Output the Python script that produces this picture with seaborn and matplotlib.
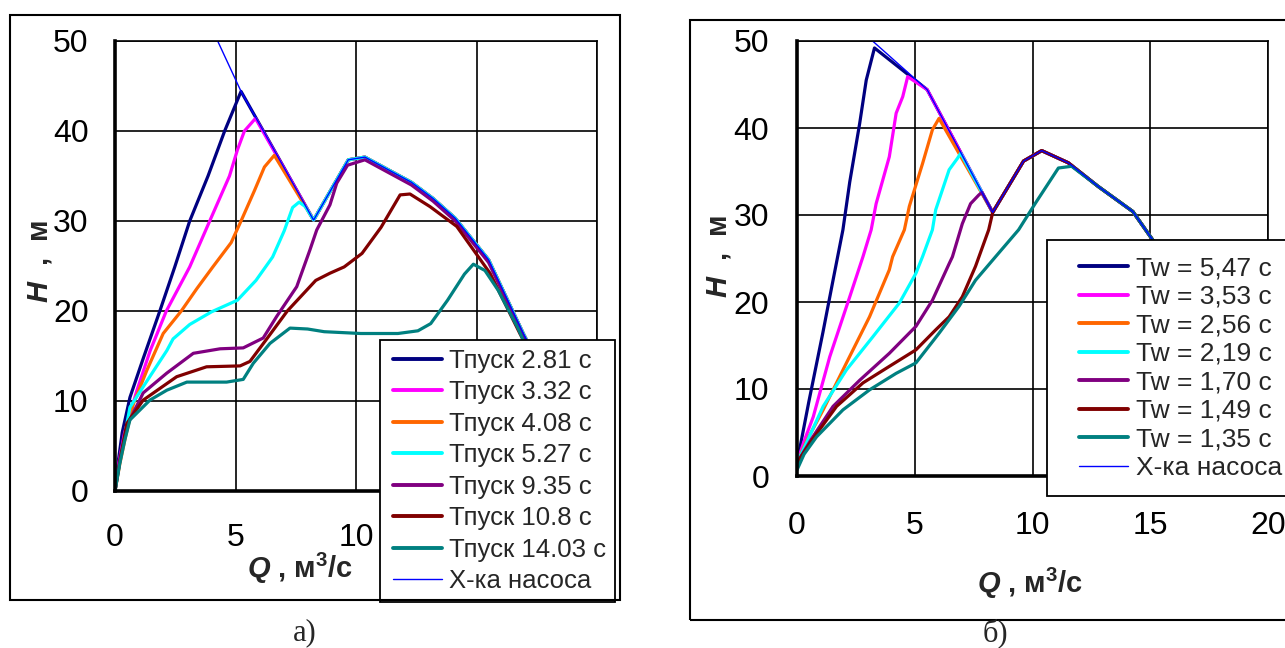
import numpy as np
import pandas as pd
import matplotlib
matplotlib.use("Agg")
import matplotlib.pyplot as plt
import seaborn as sns
from matplotlib.lines import Line2D
from matplotlib.patches import Rectangle
from matplotlib.legend_handler import HandlerLine2D

# ---------------- data: panel a) ----------------
a_labels = ["Тпуск 2.81 с", "Тпуск 3.32 с", "Тпуск 4.08 с", "Тпуск 5.27 с",
            "Тпуск 9.35 с", "Тпуск 10.8 с", "Тпуск 14.03 с"]
a_pump_label = "Х-ка насоса"

a_tail_Q = [8.24, 9.68, 10.37, 12.3, 13.2, 14.12, 15.5, 16.94, 17.8]
a_tail_H = [30.1, 36.8, 37.1, 34.3, 32.5, 30.3, 25.7, 17.5, 13.0]

a_q1 = [0, 0.12, 0.3, 0.62, 1.18, 1.86, 2.48, 3.1, 3.86, 4.55, 5.23] + a_tail_Q
a_h1 = [0, 3.0, 6.5, 10.4, 14.8, 20.0, 24.9, 30.0, 35.0, 40.0, 44.4] + a_tail_H

a_q2 = [0, 0.15, 0.4, 0.9, 1.46, 2.13, 3.1, 3.93, 4.75, 5.08, 5.37, 5.83] + a_tail_Q
a_h2 = [0, 3.0, 6.5, 11.1, 15.6, 20.0, 24.9, 30.0, 35.0, 37.9, 40.0, 41.4] + a_tail_H

a_q3 = [0, 0.2, 0.45, 0.76, 1.32, 2.0, 2.75, 3.4, 4.06, 4.82, 5.23, 5.79, 6.2, 6.61] + a_tail_Q
a_h3 = [0, 3.0, 6.2, 9.65, 13.4, 17.5, 20.0, 22.5, 24.9, 27.6, 30.0, 33.4, 36.0, 37.3] + a_tail_H

a_q4 = [0, 0.2, 0.62, 1.32, 2.15, 2.41, 3.1, 4.0, 5.08, 5.85, 6.54, 7.02, 7.37, 7.64, 7.9] + a_tail_Q
a_h4 = [0, 3.2, 9.3, 12.2, 15.6, 16.9, 18.5, 19.9, 21.2, 23.4, 26.0, 28.9, 31.5, 32.1, 31.6] + a_tail_H

a_q5 = [0, 0.2, 0.5, 1.17, 2.15, 3.25, 4.36, 5.32, 6.15, 6.71, 7.54, 8.09, 8.37, 8.92, 9.2, 9.65,
        10.37, 12.3, 13.2, 14.12, 15.5, 16.94, 17.8]
a_h5 = [0, 3.5, 7.3, 10.9, 13.1, 15.3, 15.8, 15.9, 17.0, 19.4, 22.7, 26.8, 29.0, 31.8, 34.2, 36.2,
        36.8, 34.0, 32.2, 30.0, 25.4, 17.3, 13.0]

a_q6 = [0, 0.2, 0.49, 1.17, 2.56, 3.8, 5.19, 5.6, 6.27, 7.15, 8.33, 8.92, 9.51, 10.25, 11.04, 11.83,
        12.24, 13.07, 14.18, 14.87, 15.56, 16.8, 17.6]
a_h6 = [0, 3.3, 7.5, 10.1, 12.7, 13.8, 13.9, 14.4, 16.8, 20.0, 23.4, 24.2, 24.9, 26.4, 29.3, 32.9,
        33.0, 31.6, 29.4, 26.8, 24.2, 17.5, 13.5]

a_q7 = [0, 0.2, 0.41, 0.62, 1.45, 2.15, 2.98, 4.63, 5.32, 5.74, 6.43, 7.26, 7.99, 8.68, 10.2,
        11.74, 12.57, 13.1, 13.8, 14.5, 14.87, 15.35, 15.9, 16.7, 17.4]
a_h7 = [0, 3.1, 5.7, 7.9, 10.1, 11.2, 12.1, 12.1, 12.4, 14.2, 16.4, 18.1, 18.0, 17.7, 17.5,
        17.5, 17.8, 18.6, 21.2, 24.1, 25.2, 24.5, 22.3, 18.2, 14.0]

a_pump_Q = [4.26, 5.23, 8.24, 9.68, 10.37, 12.3, 13.2, 14.12, 15.5, 16.94, 17.8]
a_pump_H = [50.0, 44.4, 30.1, 36.8, 37.1, 34.3, 32.5, 30.3, 25.7, 17.5, 13.0]

# ---------------- data: panel б) ----------------
b_labels = ["Tw = 5,47 с", "Tw = 3,53 с", "Tw = 2,56 с", "Tw = 2,19 с",
            "Tw = 1,70 с", "Tw = 1,49 с", "Tw = 1,35 с"]
b_pump_label = "Х-ка насоса"

b_tail_Q = [8.31, 9.62, 10.39, 11.52, 12.78, 14.26, 15.19, 16.0]
b_tail_H = [30.3, 36.2, 37.4, 36.0, 33.3, 30.4, 26.8, 22.5]

b_q1 = [0, 0.5, 1.1, 1.53, 1.95, 2.24, 2.66, 2.94, 3.29, 5.53] + b_tail_Q
b_h1 = [1.5, 8.5, 16.5, 22.5, 28.3, 33.8, 40.5, 45.5, 49.2, 44.4] + b_tail_H

b_q2 = [0, 0.3, 0.69, 1.39, 2.24, 2.8, 3.15, 3.36, 3.92, 4.21, 4.49, 4.7, 5.53] + b_tail_Q
b_h2 = [1.5, 4.0, 6.8, 13.7, 20.6, 25.2, 28.3, 31.3, 36.7, 41.7, 43.6, 45.9, 44.4] + b_tail_H

b_q3 = [0, 0.4, 1.11, 2.1, 3.08, 3.92, 4.06, 4.56, 4.77, 5.33, 5.75, 6.03] + b_tail_Q
b_h3 = [1.5, 4.0, 7.6, 13.0, 18.3, 23.7, 25.2, 28.3, 31.0, 35.9, 39.8, 41.1] + b_tail_H

b_q4 = [0, 0.4, 1.11, 2.1, 3.22, 4.35, 5.05, 5.33, 5.75, 5.89, 6.46, 6.81, 6.95] + b_tail_Q
b_h4 = [1.5, 3.8, 8.0, 12.2, 16.0, 19.9, 23.3, 25.2, 28.3, 30.6, 35.2, 36.5, 37.1] + b_tail_H

b_q5 = [0, 0.6, 1.53, 2.66, 3.92, 5.05, 5.75, 6.46, 6.6, 7.02, 7.37, 7.72, 7.85] + b_tail_Q
b_h5 = [1.5, 4.2, 8.0, 11.0, 14.1, 17.2, 20.2, 24.4, 25.2, 29.0, 31.3, 32.3, 32.6] + b_tail_H

b_q6 = [0, 0.6, 1.68, 2.8, 3.92, 5.05, 5.89, 6.46, 7.02, 7.58, 8.14] + b_tail_Q
b_h6 = [1.5, 4.0, 8.0, 10.7, 12.6, 14.5, 16.8, 18.3, 20.6, 24.1, 28.3] + b_tail_H

b_q7 = [0, 0.3, 0.83, 1.95, 3.08, 4.21, 5.05, 6.03, 6.88, 7.58, 8.43, 9.41, 10.11, 11.1, 11.66,
        12.78, 14.26, 15.19, 16.0]
b_h7 = [0.7, 2.5, 4.5, 7.6, 9.9, 11.8, 13.0, 16.4, 19.5, 22.5, 25.2, 28.3, 31.3, 35.4, 35.6,
        33.3, 30.4, 26.8, 22.5]

b_pump_Q = [3.21, 5.53] + b_tail_Q
b_pump_H = [50.0, 44.4] + b_tail_H

colors = ["#000080", "#FF00FF", "#FF6600", "#00FFFF", "#800080", "#800000", "#008080"]
pump_color = "#0000FF"

xticks = [0, 5, 10, 15, 20]
xtick_labels_a = ["0", "5", "10", "", ""]   # 15 and 20 are hidden behind the legend in panel a)
xtick_labels_b = ["0", "5", "10", "15", "20"]
yticks = [0, 10, 20, 30, 40, 50]

# ---------------- style ----------------
sns.set_style("white")
plt.rcParams["font.family"] = ["Liberation Sans", "DejaVu Sans"]
plt.rcParams["mathtext.fontset"] = "custom"
plt.rcParams["mathtext.it"] = "Liberation Sans:bold:italic"
plt.rcParams["mathtext.rm"] = "Liberation Sans:bold"
plt.rcParams["mathtext.bf"] = "Liberation Sans:bold"

W, H = 1285, 648
fig = plt.figure(figsize=(W / 100, H / 100), dpi=100)
fig.patch.set_facecolor("white")


def fx(px):
    return px / W


def fy(py):
    return 1 - py / H


class OffsetLineHandler(HandlerLine2D):
    def __init__(self, offset_px=0, **kw):
        super().__init__(**kw)
        self.offset_px = offset_px

    def create_artists(self, legend, orig_handle, xdescent, ydescent, width, height, fontsize, trans):
        arts = super().create_artists(legend, orig_handle, xdescent, ydescent, width, height, fontsize, trans)
        for a in arts:
            xd = np.asarray(a.get_xdata(), dtype=float)
            if len(xd) > 1:
                x0, x1 = xd.min(), xd.max()
                a.set_xdata(np.linspace(x0 + self.offset_px, x1, len(xd)))
        return arts


def make_panel(ax_rect, series_q, series_h, labels, pump_q, pump_h, xtick_labels):
    ax = fig.add_axes(ax_rect)
    frames = []
    for q, h, lab in zip(series_q, series_h, labels):
        frames.append(pd.DataFrame({"Q": q, "H": h, "series": lab}))
    df = pd.concat(frames, ignore_index=True)
    sns.lineplot(data=df, x="Q", y="H", hue="series", hue_order=labels,
                 palette=dict(zip(labels, colors)), sort=False, estimator=None,
                 units="series", linewidth=2.3, legend=False, ax=ax)
    dpump = pd.DataFrame({"Q": pump_q, "H": pump_h})
    sns.lineplot(data=dpump, x="Q", y="H", sort=False, estimator=None,
                 color=pump_color, linewidth=1.0, ax=ax)
    ax.set_xlim(0, 20)
    ax.set_ylim(0, 50)
    ax.set_xticks(xticks)
    ax.set_xticklabels(xtick_labels)
    ax.set_yticks(yticks)
    ax.grid(True, color="black", linewidth=1.2)
    for s in ["top", "right"]:
        ax.spines[s].set_visible(True)
        ax.spines[s].set_color("black")
        ax.spines[s].set_linewidth(1.2)
    for s in ["left", "bottom"]:
        ax.spines[s].set_color("black")
        ax.spines[s].set_linewidth(2.6)
    ax.tick_params(axis="both", which="major", direction="out", length=6, width=1.6,
                   color="black", labelsize=23, labelcolor="black")
    return ax


# ---------------- panel a ----------------
axA = make_panel([fx(115), fy(491), fx(597 - 115), (491 - 41) / H],
                 [a_q1, a_q2, a_q3, a_q4, a_q5, a_q6, a_q7],
                 [a_h1, a_h2, a_h3, a_h4, a_h5, a_h6, a_h7],
                 a_labels, a_pump_Q, a_pump_H, xtick_labels_a)
axA.tick_params(axis="x", pad=17)
axA.tick_params(axis="y", pad=13)
axA.set_xlabel(r"$Q$ , м$^3$/с", fontsize=21, fontweight="bold")
axA.set_ylabel(r"$H$  ,  м", fontsize=21, fontweight="bold")
axA.xaxis.set_label_coords((300 - 115) / 482, (491 - 551) / 450)
axA.yaxis.set_label_coords((54 - 115) / 482, 0.51)

handlesA = [Line2D([], [], color=c, lw=2.8) for c in colors] + [Line2D([], [], color=pump_color, lw=1.0)]
legA = axA.legend(handlesA, a_labels + [a_pump_label], loc="upper left",
                  bbox_to_anchor=(fx(380), fy(340)), bbox_transform=fig.transFigure,
                  fontsize=18.5, frameon=True, fancybox=False, framealpha=1,
                  edgecolor="black", borderpad=0.35, labelspacing=0.29,
                  handlelength=2.05, handletextpad=0.3, borderaxespad=0,
                  handler_map={Line2D: OffsetLineHandler(offset_px=3)})
legA.get_frame().set_linewidth(1.3)

# ---------------- panel b ----------------
axB = make_panel([fx(797), fy(476), fx(1268 - 797), (476 - 41) / H],
                 [b_q1, b_q2, b_q3, b_q4, b_q5, b_q6, b_q7],
                 [b_h1, b_h2, b_h3, b_h4, b_h5, b_h6, b_h7],
                 b_labels, b_pump_Q, b_pump_H, xtick_labels_b)
axB.tick_params(axis="x", pad=19)
axB.tick_params(axis="y", pad=14)
axB.set_xlabel(r"$Q$ , м$^3$/с", fontsize=21, fontweight="bold")
axB.set_ylabel(r"$H$  ,  м", fontsize=21, fontweight="bold")
axB.xaxis.set_label_coords(0.495, (476 - 566) / 435)
axB.yaxis.set_label_coords((733 - 797) / 471, 0.505)

handlesB = [Line2D([], [], color=c, lw=2.8) for c in colors] + [Line2D([], [], color=pump_color, lw=1.0)]
legB = axB.legend(handlesB, b_labels + [b_pump_label], loc="upper left",
                  bbox_to_anchor=(fx(1047), fy(240)), bbox_transform=fig.transFigure,
                  fontsize=19, frameon=True, fancybox=False, framealpha=1,
                  edgecolor="black", borderpad=0.62, labelspacing=0.17,
                  handlelength=2.45, handletextpad=0.3, borderaxespad=0,
                  handler_map={Line2D: OffsetLineHandler(offset_px=11)})
legB.get_frame().set_linewidth(1.3)

# ---------------- outer frames and captions ----------------
fig.add_artist(Rectangle((fx(10), fy(600)), fx(620 - 10), (600 - 15) / H,
                         transform=fig.transFigure, fill=False, edgecolor="black", linewidth=1.5))
fig.add_artist(Rectangle((fx(690), fy(620)), fx(1300 - 690), (620 - 20) / H,
                         transform=fig.transFigure, fill=False, edgecolor="black", linewidth=1.5,
                         clip_on=False))
fig.text(fx(305), fy(633), "а)", ha="center", va="center", fontsize=22,
         family=["Liberation Serif", "DejaVu Serif"])
fig.text(fx(995), fy(633), "б)", ha="center", va="center", fontsize=22,
         family=["Liberation Serif", "DejaVu Serif"])

fig.savefig("out.png", dpi=100, facecolor="white")
